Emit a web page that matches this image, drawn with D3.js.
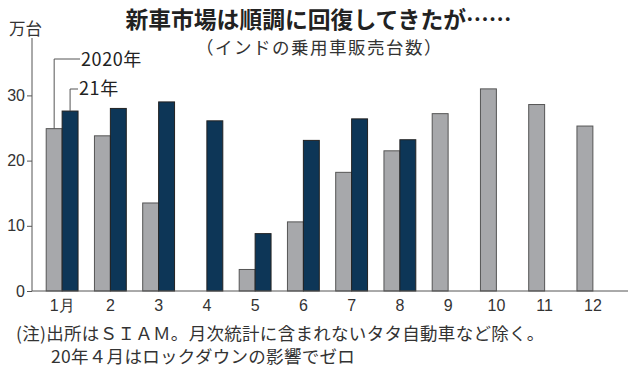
<!DOCTYPE html>
<html><head><meta charset="utf-8">
<script src="https://cdn.jsdelivr.net/npm/d3@7"></script>
<style>body{margin:0;background:#fff}svg{display:block;font-family:"Noto Sans CJK JP","Noto Sans",sans-serif}</style>
</head><body><svg id="c" width="638" height="375"></svg>
<script>
const months = ["1月","2","3","4","5","6","7","8","9","10","11","12"];
const sales2020 = [24.9,23.8,13.5,0,3.3,10.6,18.2,21.5,27.2,31.0,28.6,25.3];
const sales2021 = [27.6,28.0,29.0,26.1,8.8,23.1,26.4,23.2,null,null,null,null];
const yTicks = [0,10,20,30];
const seriesNames = ["2020年","21年"];

const svg = d3.select("#c");
const x = d3.scaleBand().domain(months).range([38,617]).paddingInner(0.34).paddingOuter(0.17);
const y = d3.scaleLinear().domain([0,30]).range([291,95.4]);
const bw = x.bandwidth()/2;

svg.append("text").attr("x",318.5).attr("y",28).attr("text-anchor","middle")
  .attr("font-size",22.8).attr("font-weight","bold").attr("fill","#222").text("新車市場は順調に回復してきたが……");
svg.append("text").attr("x",319.5).attr("y",54).attr("text-anchor","middle")
  .attr("font-size",17.5).attr("letter-spacing",1.5).attr("fill","#333").text("（インドの乗用車販売台数）");
svg.append("text").attr("x",9).attr("y",35).attr("font-size",16.5).attr("fill","#333").text("万台");

// axes
const ya = svg.append("g").attr("transform","translate(32,0)")
  .call(d3.axisLeft(y).tickValues(yTicks).tickSize(5).tickFormat(d3.format("d")));
ya.select(".domain").remove();
ya.selectAll("line").attr("stroke","#555");
ya.selectAll("text").attr("font-size",16).attr("fill","#333").attr("font-family","inherit").attr("dx",1);
svg.append("line").attr("x1",32).attr("x2",32).attr("y1",38).attr("y2",291).attr("stroke","#555");

const g = svg.append("g");
months.forEach((m,i)=>{
  if (sales2020[i] > 0) g.append("rect").attr("x",x(m)).attr("y",y(sales2020[i]))
    .attr("width",bw).attr("height",y(0)-y(sales2020[i]))
    .attr("fill","#a7a8ab").attr("stroke","#555").attr("stroke-width",1);
  if (sales2021[i] != null) g.append("rect").attr("x",x(m)+bw).attr("y",y(sales2021[i]))
    .attr("width",bw).attr("height",y(0)-y(sales2021[i]))
    .attr("fill","#0d3657").attr("stroke","#222").attr("stroke-width",1);
});

svg.append("line").attr("x1",32).attr("x2",628).attr("y1",291).attr("y2",291).attr("stroke","#555");
const xa = svg.append("g").attr("transform","translate(0,291)")
  .call(d3.axisBottom(x).tickSize(0).tickPadding(9));
xa.select(".domain").remove();
xa.selectAll("text").attr("font-size",16).attr("fill","#333").attr("font-family","inherit");

// legend callouts
const x0 = x(months[0]);
const c1 = x0 + bw/2, c2 = x0 + bw*1.5;
svg.append("path").attr("d",`M${c1},${y(sales2020[0])}V59H80`).attr("fill","none").attr("stroke","#555");
svg.append("text").attr("x",81).attr("y",66).attr("font-size",18).attr("letter-spacing",0.6).attr("fill","#222").text(seriesNames[0]);
svg.append("path").attr("d",`M${c2},${y(sales2021[0])}V89H78`).attr("fill","none").attr("stroke","#555");
svg.append("text").attr("x",79).attr("y",95).attr("font-size",18).attr("letter-spacing",0.6).attr("fill","#222").text(seriesNames[1]);

svg.append("text").attr("x",16).attr("y",340).attr("font-size",17.5).attr("letter-spacing",0.3).attr("fill","#333")
  .text("(注)出所はＳＩＡＭ。月次統計に含まれないタタ自動車など除く。");
svg.append("text").attr("x",51).attr("y",363).attr("font-size",17.5).attr("letter-spacing",0.3).attr("fill","#333")
  .text("20年４月はロックダウンの影響でゼロ");
</script></body></html>
